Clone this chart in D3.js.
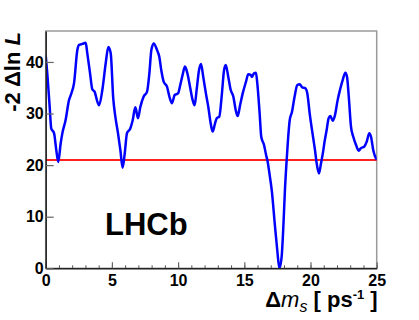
<!DOCTYPE html>
<html>
<head>
<meta charset="utf-8">
<script src="https://cdn.jsdelivr.net/npm/d3@7"></script>
<style>
  html, body { margin: 0; padding: 0; background: #fff; }
  svg { display: block; font-family: "Liberation Sans", Arial, Helvetica, sans-serif; }
</style>
</head>
<body>
<div id="chart"></div>
<script>
// Δm_s scan values (ps^-1) and -2ΔlnL
const dms = [
  0.00, 0.12, 0.30, 0.42, 0.63, 0.80, 0.95, 1.13, 1.26, 1.50, 1.76, 1.94, 2.14, 2.39, 2.52, 2.77,
  3.02, 3.14, 3.35, 3.52, 3.70, 3.90, 4.03, 4.28, 4.53, 4.73, 4.91, 5.10, 5.26, 5.46, 5.64, 5.81,
  5.97, 6.14, 6.39, 6.57, 6.77, 6.97, 7.15, 7.40, 7.65, 7.83, 7.98, 8.16, 8.41, 8.58, 8.73, 8.91,
  9.16, 9.34, 9.54, 9.74, 9.99, 10.17, 10.35, 10.52, 10.70, 10.90, 11.10, 11.25, 11.40, 11.58, 11.73, 11.90,
  12.10, 12.28, 12.46, 12.61, 12.79, 12.92, 13.11, 13.29, 13.47, 13.60, 13.79, 13.97, 14.17, 14.35, 14.50, 14.68,
  14.88, 15.13, 15.30, 15.48, 15.58, 15.73, 15.88, 15.98, 16.16, 16.28, 16.49, 16.66, 16.74, 16.92, 17.07, 17.32,
  17.49, 17.65, 17.82, 17.95, 18.07, 18.20, 18.30, 18.43, 18.60, 18.80, 19.00, 19.18, 19.36, 19.61, 19.76, 19.94,
  20.19, 20.34, 20.47, 20.64, 20.79, 20.97, 21.04, 21.22, 21.37, 21.50, 21.68, 21.85, 22.05, 22.23, 22.43, 22.63,
  22.76, 22.89, 23.06, 23.23, 23.44, 23.64, 23.81, 24.06, 24.24, 24.44, 24.57, 24.74, 25.00
];
const nll = [
  41.3, 37.8, 31.3, 27.1, 26.2, 22.9, 20.6, 24.2, 26.2, 28.7, 32.6, 33.9, 35.9, 42.3, 43.3, 43.5,
  43.7, 41.7, 37.8, 34.7, 34.2, 32.3, 31.6, 34.6, 39.7, 42.9, 41.7, 33.0, 29.4, 26.2, 22.9, 19.5,
  22.3, 26.2, 27.1, 28.7, 31.2, 29.1, 31.3, 33.3, 34.2, 37.8, 42.3, 43.6, 42.3, 41.0, 38.4, 36.2,
  35.2, 33.3, 32.0, 33.6, 33.9, 35.6, 37.6, 39.1, 37.8, 35.2, 32.6, 31.6, 34.6, 38.4, 39.6, 37.1,
  33.9, 31.3, 28.1, 26.5, 28.1, 29.1, 29.4, 33.3, 38.4, 39.4, 37.1, 34.6, 33.3, 30.7, 29.5, 31.6,
  33.9, 36.2, 37.6, 37.5, 37.1, 37.8, 37.9, 35.9, 30.0, 25.5, 23.9, 21.8, 21.0, 18.0, 15.2, 8.1,
  3.5, 0.0, 2.2, 8.1, 15.2, 21.0, 24.9, 28.7, 30.3, 33.3, 35.5, 35.7, 35.1, 34.9, 33.9, 30.0,
  25.5, 22.9, 20.3, 18.4, 20.3, 22.9, 24.2, 26.8, 29.1, 29.5, 28.6, 29.7, 32.6, 34.6, 36.5, 37.9,
  37.1, 33.3, 27.4, 25.5, 23.9, 22.8, 23.3, 23.6, 24.5, 26.2, 25.5, 22.9, 21.0
];
const threshold = 21.0;   // red reference line
const xMajorTicks = [0, 5, 10, 15, 20, 25];
const yTicks = [0, 10, 20, 30, 40];

const width = 419, height = 320;
const plotLeft = 45.7, plotRight = 376.7, plotTop = 31, plotBottom = 268.3;

const svg = d3.select('#chart').append('svg')
  .attr('width', width)
  .attr('height', height);

const x = d3.scaleLinear().domain([0, 25]).range([plotLeft, plotRight]);
const y = d3.scaleLinear().domain([0, 46]).range([plotBottom, plotTop]);

// frame (top / right are grey)
svg.append('rect')
  .attr('x', plotLeft).attr('y', plotTop)
  .attr('width', plotRight - plotLeft).attr('height', plotBottom - plotTop)
  .attr('fill', 'none')
  .attr('stroke', '#9a9a9a')
  .attr('stroke-width', 1.5);

svg.append('defs').append('clipPath').attr('id', 'plot')
  .append('rect')
  .attr('x', plotLeft).attr('y', plotTop - 2)
  .attr('width', plotRight - plotLeft).attr('height', plotBottom - plotTop + 2);

// threshold line
svg.append('line')
  .attr('x1', x(0)).attr('x2', x(25))
  .attr('y1', y(threshold)).attr('y2', y(threshold))
  .attr('stroke', '#ff2020')
  .attr('stroke-width', 2);

// scan curve
const pts = dms.map((d, i) => [d, nll[i]]);
const line = d3.line()
  .x(d => x(d[0]))
  .y(d => y(d[1]))
  .curve(d3.curveMonotoneX);

svg.append('path')
  .datum(pts)
  .attr('clip-path', 'url(#plot)')
  .attr('d', line)
  .attr('fill', 'none')
  .attr('stroke', '#0000ff')
  .attr('stroke-width', 2.5)
  .attr('stroke-linejoin', 'round');

// axes
const xMinor = svg.append('g')
  .attr('transform', `translate(0,${plotBottom})`)
  .call(d3.axisBottom(x).tickValues(d3.range(0, 26)).tickSize(-3).tickSizeOuter(0).tickFormat(''));
xMinor.select('.domain').remove();
xMinor.selectAll('line').attr('stroke', '#555');

const xAxis = svg.append('g')
  .attr('transform', `translate(0,${plotBottom})`)
  .call(d3.axisBottom(x).tickValues(xMajorTicks).tickSize(-6).tickSizeOuter(0).tickPadding(6).tickFormat(d3.format('d')));

const yAxis = svg.append('g')
  .attr('transform', `translate(${plotLeft},0)`)
  .call(d3.axisLeft(y).tickValues(yTicks).tickSize(-8).tickSizeOuter(0).tickPadding(2).tickFormat(d3.format('d')));

[xAxis, yAxis].forEach(g => {
  g.select('.domain').attr('stroke', '#222').attr('stroke-width', 1.5);
  g.selectAll('.tick line').attr('stroke', '#666').attr('stroke-width', 1.2);
  g.selectAll('.tick text')
    .attr('fill', '#000')
    .style('font-size', '16px')
    .style('font-weight', 'bold')
    .style('font-family', '"Liberation Sans", Arial, sans-serif');
});

// y title
const yt = svg.append('text')
  .attr('transform', `translate(20,${plotTop + 1}) rotate(-90)`)
  .attr('text-anchor', 'end')
  .style('font-size', '22px')
  .style('font-weight', 'bold');
yt.append('tspan').text('-2 \u0394ln ');
yt.append('tspan').style('font-style', 'italic').text('L');

// x title
const xt = svg.append('text')
  .attr('x', plotRight + 1)
  .attr('y', 307)
  .attr('text-anchor', 'end')
  .style('font-size', '22px')
  .style('font-weight', 'bold');
xt.append('tspan').text('\u0394');
xt.append('tspan').style('font-style', 'italic').style('font-weight', 'normal').text('m');
xt.append('tspan').attr('dy', 5).style('font-style', 'italic').style('font-weight', 'normal')
  .style('font-size', '16px').text('s');
xt.append('tspan').attr('dy', -5).text(' [ ps');
xt.append('tspan').attr('dy', -8).style('font-size', '13px').text('-1');
xt.append('tspan').attr('dy', 8).text(' ]');

// experiment label
svg.append('text')
  .attr('x', 105)
  .attr('y', 235)
  .style('font-size', '31px')
  .style('font-weight', 'bold')
  .text('LHCb');
</script>
</body>
</html>
